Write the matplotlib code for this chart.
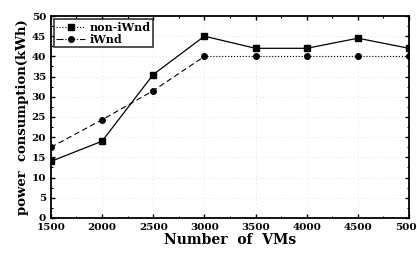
import matplotlib
matplotlib.use("Agg")
import matplotlib.pyplot as plt
from matplotlib.ticker import MultipleLocator

vms = [1500, 2000, 2500, 3000, 3500, 4000, 4500, 5000]
non_iwnd = [14.0, 19.0, 35.5, 45.0, 42.0, 42.0, 44.5, 42.0]
iwnd = [17.5, 24.3, 31.5, 40.0, 40.0, 40.0, 40.0, 40.0]

plt.rcParams["font.family"] = ["DejaVu Serif"]
plt.rcParams["font.weight"] = "bold"
plt.rcParams["axes.labelweight"] = "bold"

fig = plt.figure(figsize=(4.17, 2.54), dpi=100)
ax = fig.add_axes([0.122, 0.142, 0.859, 0.795])

# first part drawn solid/dashed, flat tail dotted (as in the scan)
ax.plot(vms[:4], non_iwnd[:4], color="black", lw=0.9, ls="-")
ax.plot(vms[3:], non_iwnd[3:], color="black", lw=0.9, ls="-")
ax.plot(vms[:4], iwnd[:4], color="black", lw=0.8, ls=(0, (5, 3)))
ax.plot(vms[3:], iwnd[3:], color="black", lw=0.8, ls=":")
ax.plot(vms, non_iwnd, ls="none", marker="s", ms=4, color="black")
ax.plot(vms, iwnd, ls="none", marker="o", ms=4, color="black")

# legend proxies
ax.plot([], [], color="black", lw=0.8, ls=":", marker="s", ms=4, label="non-iWnd")
ax.plot([], [], color="black", lw=0.8, ls="-.", marker="o", ms=4, label="iWnd")
leg = ax.legend(loc="upper left", fontsize=8, frameon=True, fancybox=False,
                edgecolor="black", borderpad=0.2, labelspacing=0.1,
                handlelength=2.6, handletextpad=0.4, borderaxespad=0.3)
leg.get_frame().set_linewidth(1.2)

ax.set_xlim(1500, 5000)
ax.set_ylim(0, 50)
ax.xaxis.set_major_locator(MultipleLocator(500))
ax.xaxis.set_minor_locator(MultipleLocator(250))
ax.yaxis.set_major_locator(MultipleLocator(5))
ax.yaxis.set_minor_locator(MultipleLocator(2.5))
ax.tick_params(which="both", direction="in", top=True, right=True, labelsize=7.5)
ax.tick_params(which="major", length=3, width=1)
ax.tick_params(which="minor", length=1.5, width=0.8)
for s in ax.spines.values():
    s.set_linewidth(1.3)
ax.grid(True, which="major", color="#cccccc", ls=(0, (1, 4)), lw=0.5)

ax.set_xlabel("Number  of  VMs", fontsize=10, fontweight="bold", labelpad=1)
ax.set_ylabel("power  consumption(kWh)", fontsize=9.5, fontweight="bold", labelpad=2)

fig.savefig("out.png", dpi=100)
